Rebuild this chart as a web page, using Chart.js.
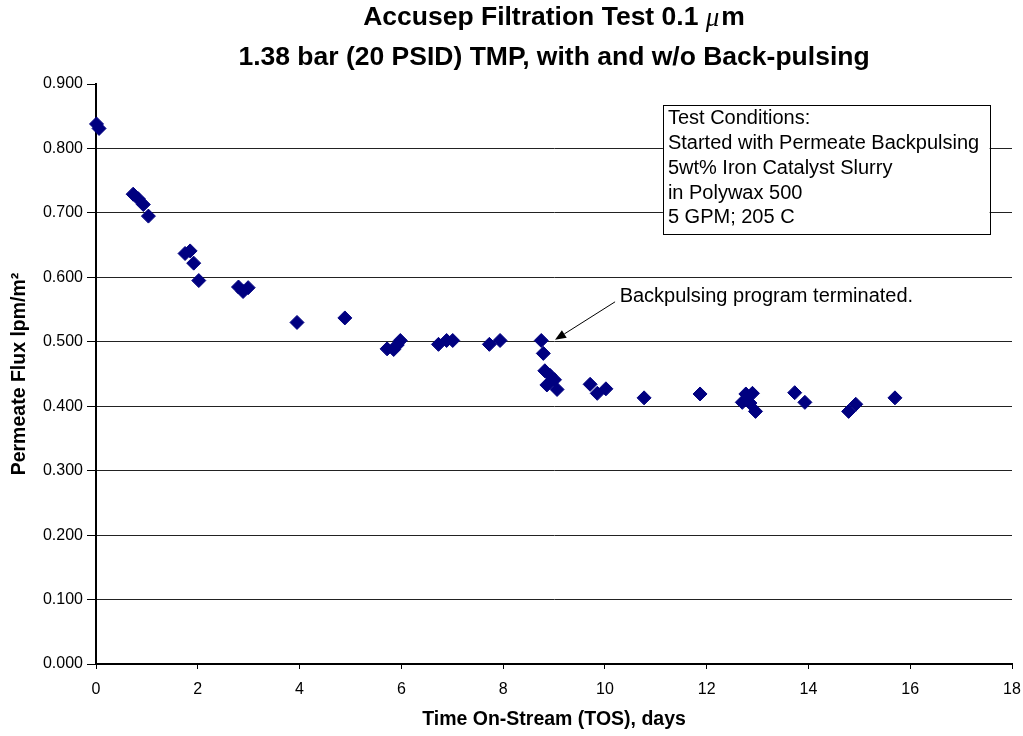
<!DOCTYPE html>
<html>
<head>
<meta charset="utf-8">
<script src="https://cdn.jsdelivr.net/npm/chart.js@4/dist/chart.umd.min.js"></script>
<style>
  body { margin: 0; background: #fff; }
  #fluxChart { display: block; }
</style>
</head>
<body>
<canvas id="fluxChart" width="1023" height="736"></canvas>
<script>
// time on-stream (days) and permeate flux (lpm/m2) for each sample
const tosDays = [
  0.01, 0.06, 0.73, 0.83, 0.93, 1.03, 1.75, 1.85, 1.92, 2.02,
  2.80, 2.89, 2.99, 3.95, 4.89, 5.72, 5.85, 5.92, 5.98, 6.73,
  6.89, 7.01, 7.73, 7.94, 8.75, 8.79, 8.82, 8.92, 8.86, 9.01,
  9.06, 9.71, 9.85, 10.02, 10.77, 11.87, 12.70, 12.77, 12.90, 12.85,
  12.96, 13.73, 13.93, 14.79, 14.93, 15.70,
];
const fluxValues = [
  0.838, 0.831, 0.729, 0.722, 0.713, 0.695, 0.637, 0.641, 0.622, 0.595,
  0.585, 0.578, 0.584, 0.530, 0.537, 0.489, 0.488, 0.495, 0.502, 0.496,
  0.502, 0.502, 0.496, 0.502, 0.502, 0.482, 0.455, 0.448, 0.433, 0.441,
  0.426, 0.434, 0.420, 0.427, 0.413, 0.419, 0.406, 0.419, 0.420, 0.405,
  0.392, 0.421, 0.406, 0.392, 0.403, 0.413,
];
const titleLines = ['Accusep Filtration Test 0.1 ', '1.38 bar (20 PSID) TMP, with and w/o Back-pulsing'];
const conditionLines = [
  'Test Conditions:',
  'Started with Permeate Backpulsing',
  '5wt% Iron Catalyst Slurry',
  'in Polywax 500',
  '5 GPM; 205 C',
];
const noteText = 'Backpulsing program terminated.';

const FONT = "'Liberation Sans', Arial, sans-serif";
const NAVY = '#000080';

// chart heading, the micro sign is set in italic like the original
const headingPlugin = {
  id: 'heading',
  afterDraw(chart) {
    const ctx = chart.ctx;
    const cx = (chart.chartArea.left + chart.chartArea.right) / 2;
    ctx.save();
    ctx.fillStyle = '#000';
    ctx.textBaseline = 'middle';
    ctx.textAlign = 'left';
    const bold = 'bold 26.5px ' + FONT;
    const ital = "italic 27px 'Liberation Serif', 'Times New Roman', serif";
    ctx.font = bold;
    const w1 = ctx.measureText(titleLines[0]).width;
    const w3 = ctx.measureText('m').width;
    ctx.font = ital;
    const w2 = ctx.measureText('μ').width + 2;
    let x = cx - (w1 + w2 + w3) / 2;
    ctx.font = bold;
    ctx.fillText(titleLines[0], x, 18);
    ctx.font = ital;
    ctx.fillText('μ', x + w1, 19);
    ctx.font = bold;
    ctx.fillText('m', x + w1 + w2, 18);
    ctx.textAlign = 'center';
    ctx.fillText(titleLines[1], cx, 58);
    ctx.restore();
  },
};

// test conditions box and the arrow note
const notesPlugin = {
  id: 'notes',
  afterDraw(chart) {
    const ctx = chart.ctx;
    const xs = chart.scales.x, ys = chart.scales.y;
    const left = xs.getPixelForValue(11.14), right = xs.getPixelForValue(17.56);
    const top = ys.getPixelForValue(0.868), bottom = ys.getPixelForValue(0.668);
    ctx.save();
    ctx.fillStyle = '#fff';
    ctx.fillRect(left, top, right - left, bottom - top);
    ctx.strokeStyle = '#000';
    ctx.lineWidth = 1;
    ctx.strokeRect(Math.round(left) + 0.5, Math.round(top) + 0.5, Math.round(right - left), Math.round(bottom - top));
    ctx.fillStyle = '#000';
    ctx.font = '20px ' + FONT;
    ctx.textAlign = 'left';
    ctx.textBaseline = 'middle';
    conditionLines.forEach((line, i) => {
      ctx.fillText(line, left + 5, top + 14 + i * 24.8);
    });

    // note text and arrow pointing at the last back-pulsed sample
    ctx.fillText(noteText, xs.getPixelForValue(10.29), ys.getPixelForValue(0.570));
    const x0 = xs.getPixelForValue(10.2), y0 = ys.getPixelForValue(0.562);
    const x1 = xs.getPixelForValue(9.02), y1 = ys.getPixelForValue(0.503);
    const ang = Math.atan2(y1 - y0, x1 - x0);
    const headLen = 11, headW = 4.5;
    const bx = x1 - headLen * Math.cos(ang), by = y1 - headLen * Math.sin(ang);
    ctx.beginPath();
    ctx.moveTo(x0, y0);
    ctx.lineTo(bx, by);
    ctx.stroke();
    ctx.beginPath();
    ctx.moveTo(x1, y1);
    ctx.lineTo(bx + headW * Math.sin(ang), by - headW * Math.cos(ang));
    ctx.lineTo(bx - headW * Math.sin(ang), by + headW * Math.cos(ang));
    ctx.closePath();
    ctx.fill();
    ctx.restore();
  },
};

const fluxChart = new Chart(document.getElementById('fluxChart'), {
  type: 'scatter',
  data: {
    datasets: [
      {
        label: 'Permeate Flux',
        data: tosDays.map((d, i) => ({ x: d, y: fluxValues[i] })),
        pointStyle: 'rectRot',
        pointRadius: 7,
        pointHoverRadius: 7,
        borderWidth: 1,
        backgroundColor: NAVY,
        borderColor: NAVY,
        clip: false,
      },
    ],
  },
  options: {
    responsive: false,
    animation: false,
    layout: { padding: { top: 84, right: 0, left: 0, bottom: 0 } },
    plugins: {
      legend: { display: false },
      title: { display: false },
      tooltip: { enabled: false },
    },
    scales: {
      x: {
        type: 'linear',
        min: 0,
        max: 18,
        afterFit: (scale) => {
          scale.height = 72;
          // keep the plot running out to 11px from the right edge
          scale.paddingRight = 11;
          scale.paddingLeft = 0;
        },
        border: { display: true, color: '#000', width: 2 },
        grid: { drawOnChartArea: false, drawTicks: true, tickLength: 5, color: '#000' },
        ticks: {
          stepSize: 2,
          padding: 11,
          color: '#000',
          font: { family: FONT, size: 16 },
        },
        title: {
          display: true,
          text: 'Time On-Stream (TOS), days',
          color: '#000',
          font: { family: FONT, size: 19.5, weight: 'bold' },
          padding: { top: 0, bottom: 5 },
        },
      },
      y: {
        min: 0,
        max: 0.9,
        afterFit: (scale) => { scale.width = 96; },
        border: { display: true, color: '#000', width: 2 },
        grid: {
          color: (ctx) => (ctx.tick && ctx.tick.value >= 0.9 ? 'rgba(0,0,0,0)' : '#222'),
          tickColor: '#000',
          tickLength: 9,
          lineWidth: 1,
        },
        ticks: {
          stepSize: 0.1,
          padding: 4,
          color: '#000',
          font: { family: FONT, size: 16 },
          callback: (v) => Number(v).toFixed(3),
        },
        title: {
          display: true,
          text: 'Permeate Flux lpm/m²',
          color: '#000',
          font: { family: FONT, size: 19.5, weight: 'bold' },
          padding: { top: 8, bottom: 0 },
        },
      },
    },
  },
  plugins: [headingPlugin, notesPlugin],
});
</script>
</body>
</html>
